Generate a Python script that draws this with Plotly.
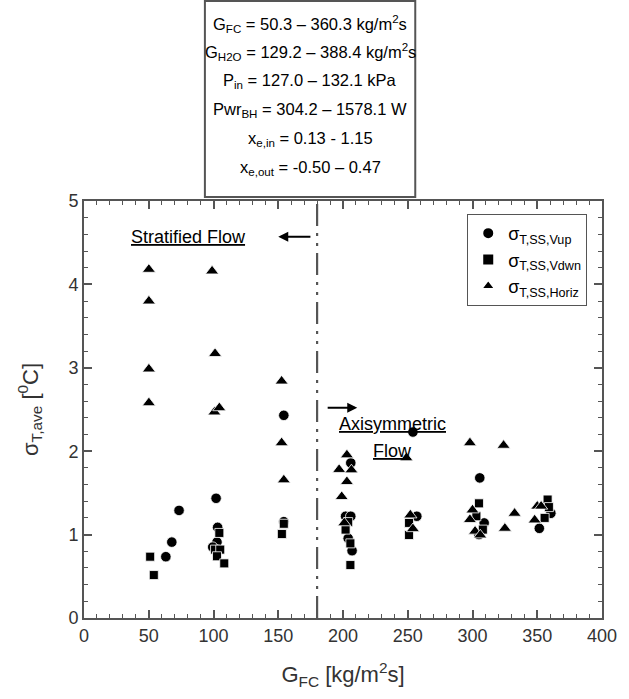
import plotly.graph_objects as go

# ---- data ----
vup_x = [63.2, 67.8, 73.4, 102.0, 103.2, 102.7, 99.4, 154.3, 154.3, 206.0, 202.0, 206.0,
         204.0, 207.0, 254.0, 257.0, 305.6, 309.0, 305.0, 360.5, 351.6]
vup_y = [0.735, 0.91, 1.29, 1.435, 1.087, 0.91, 0.85, 2.43, 1.155, 1.86, 1.22, 1.22,
         0.955, 0.807, 2.23, 1.22, 1.68, 1.14, 1.0, 1.255, 1.075]

vdwn_x = [51.1, 53.9, 104.5, 101.2, 105.2, 102.7, 108.3, 154.3, 152.8, 204.0, 202.0, 205.7,
          205.7, 251.0, 251.0, 305.0, 303.0, 308.0, 358.0, 359.0, 355.7]
vdwn_y = [0.735, 0.515, 1.02, 0.82, 0.82, 0.74, 0.655, 1.13, 1.007, 1.15, 1.06, 0.895,
          0.635, 1.14, 0.995, 1.375, 1.22, 1.06, 1.42, 1.33, 1.20]

horiz_x = [50.1, 50.1, 50.1, 50.1, 98.9, 101.2, 100.7, 104.5, 152.6, 152.6, 154.3,
           203.0, 197.0, 206.5, 203.0, 199.0, 201.0, 249.0, 252.0, 254.0,
           298.0, 324.0, 300.0, 298.0, 302.0, 306.0, 332.5, 325.0, 350.0, 353.0, 348.0]
horiz_y = [4.18, 3.80, 2.985, 2.58, 4.16, 3.17, 2.47, 2.52, 2.84, 2.10, 1.655,
           1.955, 1.78, 1.775, 1.635, 1.455, 1.14, 1.92, 1.235, 1.07,
           2.10, 2.07, 1.295, 1.18, 1.04, 0.995, 1.255, 1.075, 1.34, 1.34, 1.175]

series_names = ["σ<sub>T,SS,Vup</sub>", "σ<sub>T,SS,Vdwn</sub>", "σ<sub>T,SS,Horiz</sub>"]

info_lines = [
    "G<sub>FC</sub> = 50.3 – 360.3 kg/m<sup>2</sup>s",
    "G<sub>H2O</sub> = 129.2 – 388.4 kg/m<sup>2</sup>s",
    "P<sub>in</sub> = 127.0 – 132.1 kPa",
    "Pwr<sub>BH</sub> = 304.2 – 1578.1 W",
    "x<sub>e,in</sub> = 0.13 - 1.15",
    "x<sub>e,out</sub> = -0.50 – 0.47",
]

regime_boundary = 180

FONT = "Liberation Sans, Arial, sans-serif"
AXC = "#555555"
TXT = "#333333"

fig = go.Figure()
fig.add_trace(go.Scatter(x=vup_x, y=vup_y, mode="markers", name=series_names[0],
                         marker=dict(symbol="circle", size=10.5, color="black",
                                     line=dict(color="white", width=0.8))))
fig.add_trace(go.Scatter(x=vdwn_x, y=vdwn_y, mode="markers", name=series_names[1],
                         marker=dict(symbol="square", size=9, color="black",
                                     line=dict(color="white", width=0.8))))
fig.add_trace(go.Scatter(x=horiz_x, y=horiz_y, mode="markers", name=series_names[2],
                         marker=dict(symbol="triangle-up", size=11.5, color="black",
                                     line=dict(color="white", width=0.8))))

# regime boundary line
fig.add_shape(type="line", xref="x", yref="y", x0=regime_boundary, x1=regime_boundary,
              y0=0, y1=5, line=dict(color=AXC, width=2.2,
                                    dash="22px,7px,3px,7px,3px,7px"))

# info box
fig.add_shape(type="rect", xref="paper", yref="paper", x0=0.2334, x1=0.6395,
              y0=1.0096, y1=1.4796, line=dict(color=AXC, width=2), fillcolor="white")
line_px = [24, 52, 81, 110, 139, 168]
for t, py in zip(info_lines, line_px):
    fig.add_annotation(xref="paper", yref="paper", x=0.4364, y=(618 - py) / 417,
                       text=t, showarrow=False, xanchor="center", yanchor="middle",
                       font=dict(family=FONT, size=16.5, color="black"))

# regime annotations
fig.add_annotation(x=81, y=4.57, xref="x", yref="y", text="<u>Stratified Flow</u>",
                   showarrow=False, font=dict(family=FONT, size=18, color="black"))
fig.add_annotation(x=150, y=4.57, ax=176, ay=4.57, xref="x", yref="y",
                   axref="x", ayref="y", text="", showarrow=True, arrowhead=2,
                   arrowsize=1, arrowwidth=2, arrowcolor="black")
fig.add_annotation(x=238, y=2.33, xref="x", yref="y", text="<u>Axisymmetric</u>",
                   showarrow=False, font=dict(family=FONT, size=18, color="black"))
fig.add_annotation(x=238, y=2.0, xref="x", yref="y", text="<u>Flow</u>",
                   showarrow=False, font=dict(family=FONT, size=18, color="black"))
fig.add_annotation(x=211, y=2.52, ax=187, ay=2.52, xref="x", yref="y",
                   axref="x", ayref="y", text="", showarrow=True, arrowhead=2,
                   arrowsize=1, arrowwidth=2, arrowcolor="black")

axis_common = dict(showline=True, linecolor=AXC, linewidth=2, mirror="ticks",
                   ticks="inside", ticklen=8, tickwidth=1.5, tickcolor=AXC,
                   showgrid=False, zeroline=False,
                   tickfont=dict(family=FONT, size=18, color=TXT))

fig.update_xaxes(range=[0, 400], dtick=50, tick0=0,
                 minor=dict(dtick=10, ticks="inside", ticklen=4, tickcolor=AXC, tickwidth=1.2),
                 title=dict(text="G<sub>FC</sub> [kg/m<sup>2</sup>s]",
                            font=dict(family=FONT, size=22, color=TXT), standoff=22),
                 **axis_common)
fig.update_yaxes(range=[0, 5], dtick=1, tick0=0,
                 minor=dict(dtick=0.2, ticks="inside", ticklen=4, tickcolor=AXC, tickwidth=1.2),
                 title=dict(text="σ<sub>T,ave</sub> [<sup>0</sup>C]",
                            font=dict(family=FONT, size=22, color=TXT), standoff=24),
                 **axis_common)

fig.update_layout(
    width=629, height=699,
    margin=dict(l=84, r=18, t=201, b=81),
    paper_bgcolor="white", plot_bgcolor="white",
    font=dict(family=FONT, color="black"),
    legend=dict(x=0.9715, y=0.969, xanchor="right", yanchor="top",
                bordercolor=AXC, borderwidth=1, bgcolor="white",
                font=dict(family=FONT, size=18, color="black"),
                itemsizing="constant", tracegroupgap=0),
    showlegend=True,
)

fig.write_html("out.html")
